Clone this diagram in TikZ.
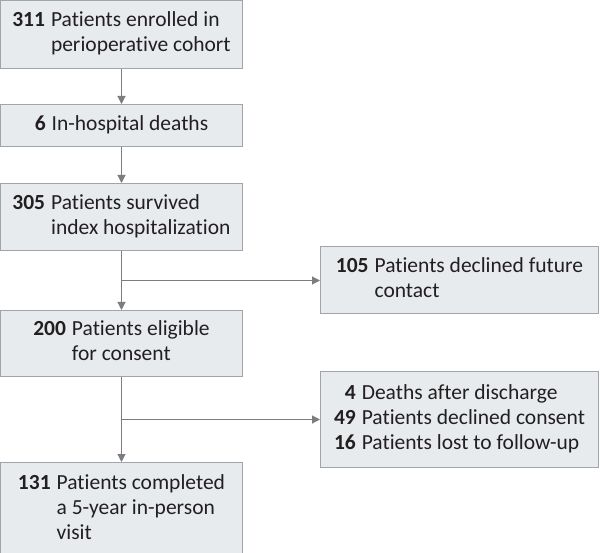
\documentclass[tikz,border=0pt]{standalone}
\usepackage{fontspec}
\setmainfont{Carlito}[Ligatures=NoCommon]
\usetikzlibrary{positioning,arrows.meta}
\definecolor{boxfill}{RGB}{231,235,238}
\definecolor{boxline}{RGB}{160,165,170}
\definecolor{arrowgray}{RGB}{125,125,128}
\definecolor{textdark}{RGB}{35,31,32}
\tikzset{
	flowbox/.style = {draw=boxline, fill=boxfill, line width=1pt, inner sep=2pt,
	 text=textdark, font=\fontsize{21.5}{25}\selectfont, align=center},
	leftbox/.style = {flowbox, minimum width=242pt},
	rightbox/.style = {flowbox, minimum width=278pt},
	flow/.style = {draw=arrowgray, line width=1.1pt, -{Triangle[width=8pt,length=8pt]}}
	}
\newcommand{\cnt}[1]{\begin{tabular}{@{}r@{\hspace{6pt}}l@{}}#1\end{tabular}}

\begin{document}
\begin{tikzpicture}[x=1pt, y=1pt, node distance=35pt]
\useasboundingbox (0,0) rectangle (600,-553);

% NODES
% main column
\node (enrol) [leftbox, minimum height=68pt, anchor=north west] at (0,0)
	{\cnt{\textbf{311} & Patients enrolled in\\ & perioperative cohort}};
\node (died) [leftbox, minimum height=42pt, below=of enrol]
	{\cnt{\textbf{6} & In-hospital deaths}};
\node (survived) [leftbox, minimum height=67pt, below=36pt of died]
	{\cnt{\textbf{305} & Patients survived\\ & index hospitalization}};
\node (eligible) [leftbox, minimum height=66pt, below=59pt of survived]
	{\cnt{\textbf{200} & Patients eligible\\ & for consent}};
\node (visit) [leftbox, minimum height=94pt, below=85pt of eligible]
	{\cnt{\textbf{131} & Patients completed\\ & a 5-year in-person\\ & visit}};
% branch points
\path (survived.south) -- (eligible.north) coordinate [midway] (split1);
\path (eligible.south) -- (visit.north) coordinate [midway] (split2);
% excluded
\node (declined) [rightbox, minimum height=67pt, anchor=west] at (320,0 |- split1)
	{\cnt{\textbf{105} & Patients declined future\\ & contact}};
\node (lost) [rightbox, minimum height=96pt, anchor=west] at (320,0 |- split2)
	{\cnt{\textbf{4} & Deaths after discharge\\ \textbf{49} & Patients declined consent\\ \textbf{16} & Patients lost to follow-up}};

%CONNECTIONS
\draw [flow] (enrol) -- (died);
\draw [flow] (died) -- (survived);
\draw [flow] (survived) -- (eligible);
\draw [flow] (eligible) -- (visit);
\draw [flow] (split1) -- (declined);
\draw [flow] (split2) -- (lost);

\end{tikzpicture}
\end{document}
